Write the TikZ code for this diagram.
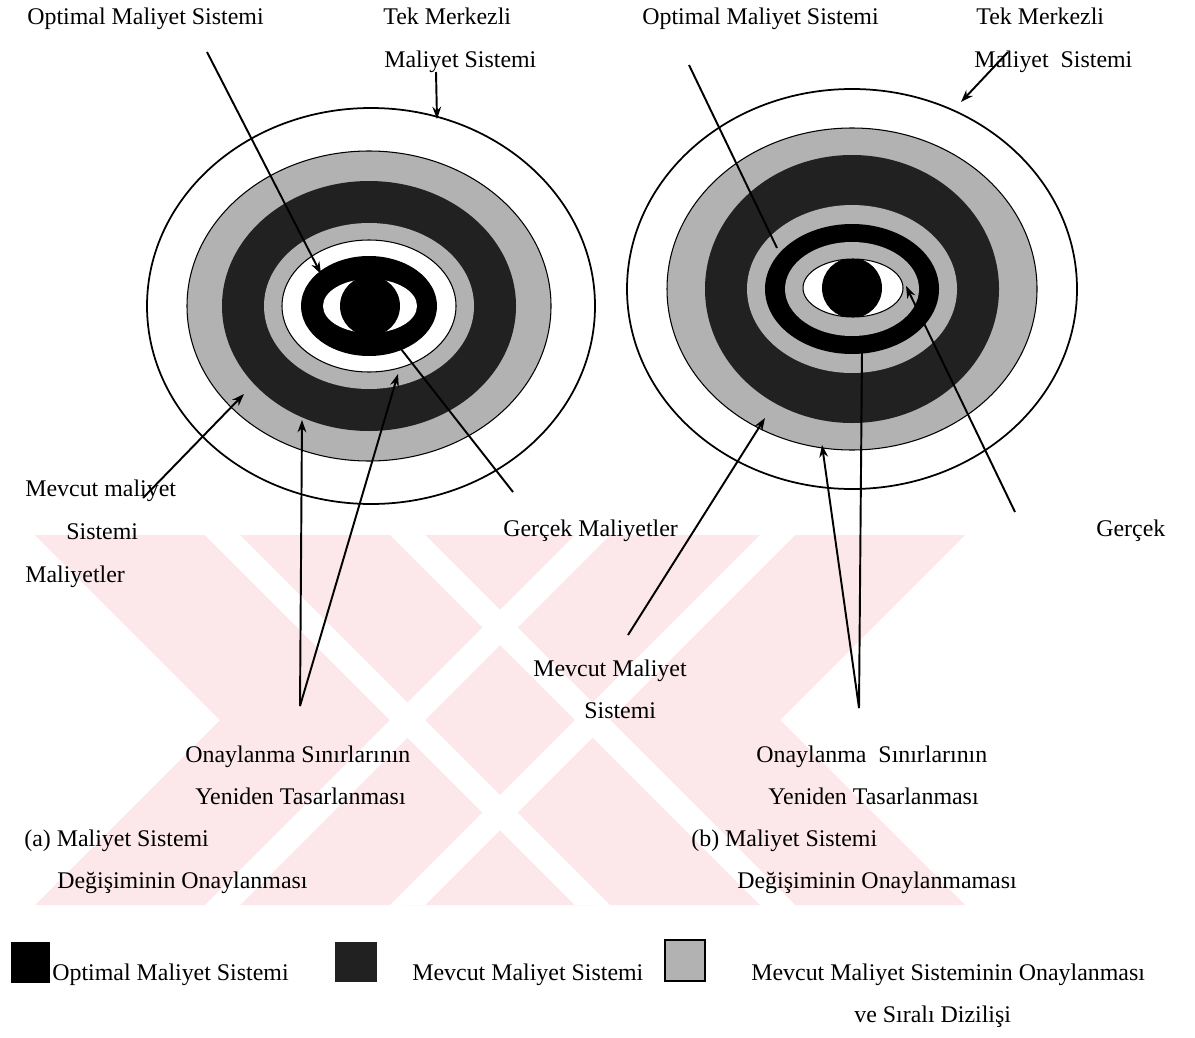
\documentclass[tikz,border=0pt]{standalone}
\usepackage{fontspec}
\setmainfont{Liberation Serif}
\usetikzlibrary{arrows.meta}
\definecolor{lightdots}{gray}{0.70}
\definecolor{darkdots}{gray}{0.13}
\definecolor{wmpink}{RGB}{252,231,235}

\begin{document}
\begin{tikzpicture}[x=0.02cm, y=-0.02cm,
    txt/.style={anchor=base west, inner sep=0pt, font=\fontsize{13.6}{16}\selectfont},
    ptr/.style={-{Stealth[length=7pt,width=5pt]}, line width=1.1pt},
    bare/.style={line width=1.1pt},
    ringline/.style={draw=black, line width=0.6pt}]
    \useasboundingbox (0,0) rectangle (1195,1037);

    %watermark
    \begin{scope}
        \clip (10,535) rectangle (1010,905);
        \fill[wmpink] (35,535) -- (595,535) -- (965,905) -- (405,905) -- cycle;
        \fill[wmpink] (405,535) -- (965,535) -- (595,905) -- (35,905) -- cycle;
        \fill[white] (205,535) -- (240,535) -- (610,905) -- (575,905) -- cycle;
        \fill[white] (390,535) -- (425,535) -- (795,905) -- (760,905) -- cycle;
        \fill[white] (575,535) -- (610,535) -- (240,905) -- (205,905) -- cycle;
        \fill[white] (760,535) -- (795,535) -- (425,905) -- (390,905) -- cycle;
    \end{scope}

    %left target
    \filldraw[fill=white, line width=1pt] (371,306) ellipse [x radius=224, y radius=198];
    \filldraw[fill=lightdots, ringline] (369,306) ellipse [x radius=182, y radius=155];
    \fill[darkdots] (369,306) ellipse [x radius=147, y radius=125];
    \fill[lightdots] (369,306) ellipse [x radius=105, y radius=83];
    \filldraw[fill=white, ringline] (369,306) ellipse [x radius=87, y radius=66];
    \fill[black] (369,306) ellipse [x radius=68, y radius=50];
    \fill[white] (370,306) ellipse [x radius=47, y radius=27];
    \fill[black] (370,306) circle [radius=30];

    %right target
    \filldraw[fill=white, line width=1pt] (852,289) ellipse [x radius=225, y radius=200];
    \filldraw[fill=lightdots, ringline] (852,289) ellipse [x radius=185, y radius=161];
    \fill[darkdots] (852,289) ellipse [x radius=147, y radius=134];
    \fill[lightdots] (852,289) ellipse [x radius=105, y radius=84];
    \fill[black] (852,289) ellipse [x radius=87, y radius=65];
    \fill[lightdots] (852,289) ellipse [x radius=67, y radius=47];
    \filldraw[fill=white, ringline] (853,288) ellipse [x radius=50, y radius=29];
    \begin{scope}
        \clip (853,288) ellipse [x radius=50, y radius=29];
        \fill[black] (852,288) circle [radius=30];
    \end{scope}

    %nodes
    \node[txt] at (27,25) (optA) {Optimal Maliyet Sistemi};
    \node[txt] at (383,25) (tekA) {Tek Merkezli};
    \node[txt] at (384,68) (tekAb) {Maliyet Sistemi};
    \node[txt] at (642,25) (optB) {Optimal Maliyet Sistemi};
    \node[txt] at (976,25) (tekB) {Tek Merkezli};
    \node[txt] at (974,68) (tekBb) {Maliyet\ \ Sistemi};
    \node[txt] at (25,496) (mevA) {Mevcut maliyet};
    \node[txt] at (66,539) (mevAb) {Sistemi};
    \node[txt] at (25,582) (mevAc) {Maliyetler};
    \node[txt] at (503,536) (gerA) {Gerçek Maliyetler};
    \node[txt] at (1096,536) (gerB) {Gerçek};
    \node[txt] at (533,676) (mevB) {Mevcut Maliyet};
    \node[txt] at (584,718) (mevBb) {Sistemi};
    \node[txt] at (185,762) (onayA) {Onaylanma Sınırlarının};
    \node[txt] at (195,804) (onayAb) {Yeniden Tasarlanması};
    \node[txt] at (24,846) (capA) {(a) Maliyet Sistemi};
    \node[txt] at (57,888) (capAb) {Değişiminin Onaylanması};
    \node[txt] at (756,762) (onayB) {Onaylanma\ \ Sınırlarının};
    \node[txt] at (768,804) (onayBb) {Yeniden Tasarlanması};
    \node[txt] at (691,846) (capB) {(b) Maliyet Sistemi};
    \node[txt] at (737,888) (capBb) {Değişiminin Onaylanmaması};

    %legend
    \fill[black] (11,942) rectangle (50,983);
    \fill[darkdots] (335,942) rectangle (377,982);
    \filldraw[fill=lightdots, line width=0.8pt] (665,940) rectangle (705,981);
    \node[txt] at (52,980) (keyOpt) {Optimal Maliyet Sistemi};
    \node[txt] at (412,980) (keyMev) {Mevcut Maliyet Sistemi};
    \node[txt] at (751,980) (keyOnay) {Mevcut Maliyet Sisteminin Onaylanması};
    \node[txt] at (854,1022) (keyOnayb) {ve Sıralı Dizilişi};

    %pointer ends
    \coordinate (optAs) at (207,52);   \coordinate (optAt) at (321,274);
    \coordinate (tekAs) at (436,72);   \coordinate (tekAt) at (437,119);
    \coordinate (gerAs) at (513,492);  \coordinate (gerAt) at (401,349);
    \coordinate (mevAs) at (143,498);  \coordinate (mevAt) at (244,394);
    \coordinate (onayAs) at (300,706); \coordinate (onayAt) at (302,420);
    \coordinate (onayAu) at (398,374);
    \coordinate (optBs) at (689,65);   \coordinate (optBt) at (777,248);
    \coordinate (tekBs) at (1008,52);  \coordinate (tekBt) at (961,102);
    \coordinate (gerBs) at (1015,512); \coordinate (gerBt) at (906,286);
    \coordinate (mevBs) at (628,635);  \coordinate (mevBt) at (765,418);
    \coordinate (onayBs) at (859,708); \coordinate (onayBt) at (822,445);
    \coordinate (onayBu) at (862,350);

    \path
        (optAs) edge[ptr] (optAt)
        (tekAs) edge[ptr] (tekAt)
        (gerAs) edge[bare] (gerAt)
        (mevAs) edge[ptr] (mevAt)
        (onayAs) edge[ptr] (onayAt)
        (onayAs) edge[ptr] (onayAu)
        (optBs) edge[bare] (optBt)
        (tekBs) edge[ptr] (tekBt)
        (gerBs) edge[ptr] (gerBt)
        (mevBs) edge[ptr] (mevBt)
        (onayBs) edge[ptr] (onayBt)
        (onayBs) edge[bare] (onayBu);
\end{tikzpicture}
\end{document}
